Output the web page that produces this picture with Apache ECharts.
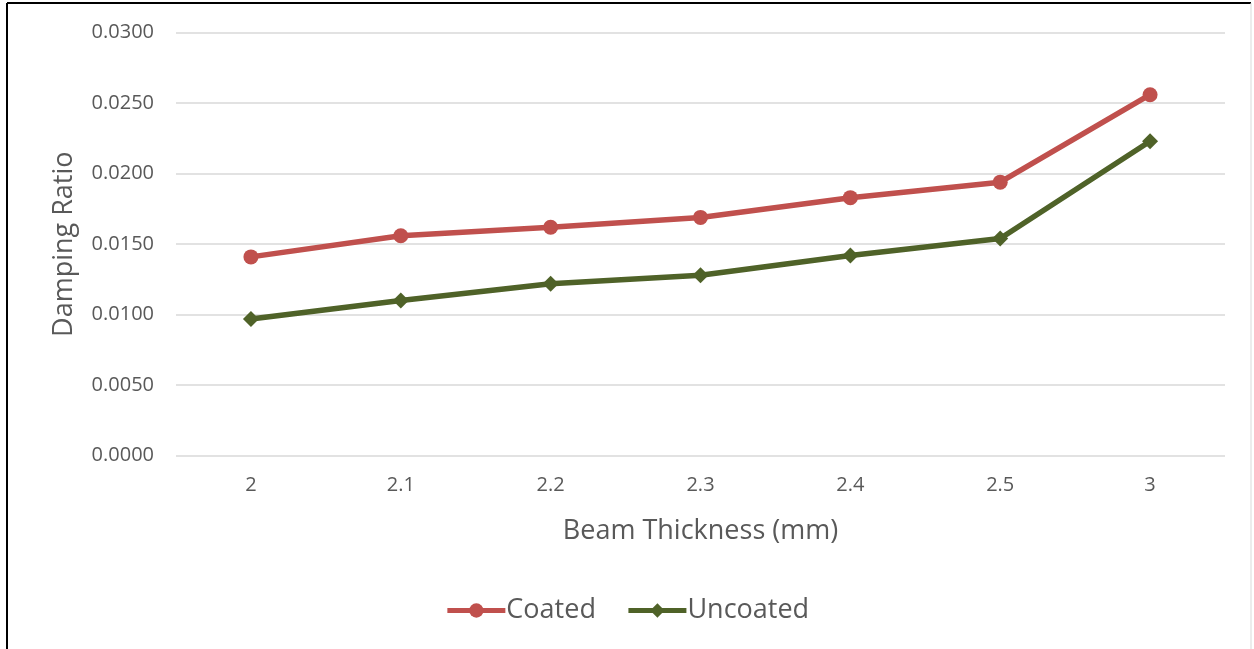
<!DOCTYPE html>
<html>
<head>
<meta charset="utf-8">
<script src="https://cdn.jsdelivr.net/npm/echarts@6/dist/echarts.min.js"></script>
<style>
  html, body { margin: 0; padding: 0; background: #fff; }
  #chart { width: 1254px; height: 649px; }
</style>
</head>
<body>
<div id="chart"></div>
<script>
// Beam thickness categories (mm)
const thickness = ['2', '2.1', '2.2', '2.3', '2.4', '2.5', '3'];
// Damping ratio per thickness
const coated = [0.0141, 0.0156, 0.0162, 0.0169, 0.0183, 0.0194, 0.0256];
const uncoated = [0.0097, 0.0110, 0.0122, 0.0128, 0.0142, 0.0154, 0.0223];
// Value axis range
const yMin = 0, yMax = 0.03, yStep = 0.005;

const textColor = '#595959';
const font = '"Open Sans", "Noto Sans", sans-serif';

const chart = echarts.init(document.getElementById('chart'), null, { renderer: 'canvas' });
chart.setOption({
  animation: false,
  backgroundColor: '#fff',
  textStyle: { fontFamily: font, color: textColor },
  graphic: [
    // outer frame
    { type: 'line', shape: { x1: 7, y1: 3, x2: 1251, y2: 3 }, style: { stroke: '#000', lineWidth: 2 } },
    { type: 'line', shape: { x1: 7, y1: 3, x2: 7, y2: 649 }, style: { stroke: '#000', lineWidth: 2 } },
    { type: 'line', shape: { x1: 1251, y1: 3, x2: 1251, y2: 649 }, style: { stroke: '#d9d9d9', lineWidth: 1 } }
  ],
  grid: { left: 176, right: 29, top: 32.7, bottom: 193.3 },
  legend: {
    bottom: 20,
    left: 'center',
    itemWidth: 58,
    itemHeight: 18,
    itemGap: 30,
    lineStyle: { width: 5 },
    textStyle: { fontSize: 27, color: textColor, fontFamily: font, padding: [0, 0, 0, -4] },
    data: ['Coated', 'Uncoated']
  },
  xAxis: {
    type: 'category',
    data: thickness,
    boundaryGap: true,
    name: 'Beam Thickness (mm)',
    nameLocation: 'middle',
    nameGap: 62,
    nameTextStyle: { fontSize: 27, color: textColor, fontFamily: font },
    axisLine: { show: false },
    axisTick: { show: false },
    axisLabel: { fontSize: 20, color: textColor, margin: 20, fontFamily: font }
  },
  yAxis: {
    type: 'value',
    min: yMin,
    max: yMax,
    interval: yStep,
    name: 'Damping Ratio',
    nameLocation: 'middle',
    nameGap: 98,
    nameTextStyle: { fontSize: 27, color: textColor, fontFamily: font },
    axisLine: { show: false },
    axisTick: { show: false },
    axisLabel: {
      fontSize: 20, color: textColor, margin: 22, fontFamily: font,
      formatter: v => v.toFixed(4)
    },
    splitLine: { lineStyle: { color: '#d9d9d9', width: 1.5 } }
  },
  series: [
    {
      name: 'Coated',
      type: 'line',
      data: coated,
      symbol: 'circle',
      symbolSize: 15,
      lineStyle: { color: '#C0504D', width: 5.5 },
      itemStyle: { color: '#C0504D' }
    },
    {
      name: 'Uncoated',
      type: 'line',
      data: uncoated,
      symbol: 'diamond',
      symbolSize: 16,
      lineStyle: { color: '#4F6228', width: 5.5 },
      itemStyle: { color: '#4F6228' }
    }
  ]
});
</script>
</body>
</html>
